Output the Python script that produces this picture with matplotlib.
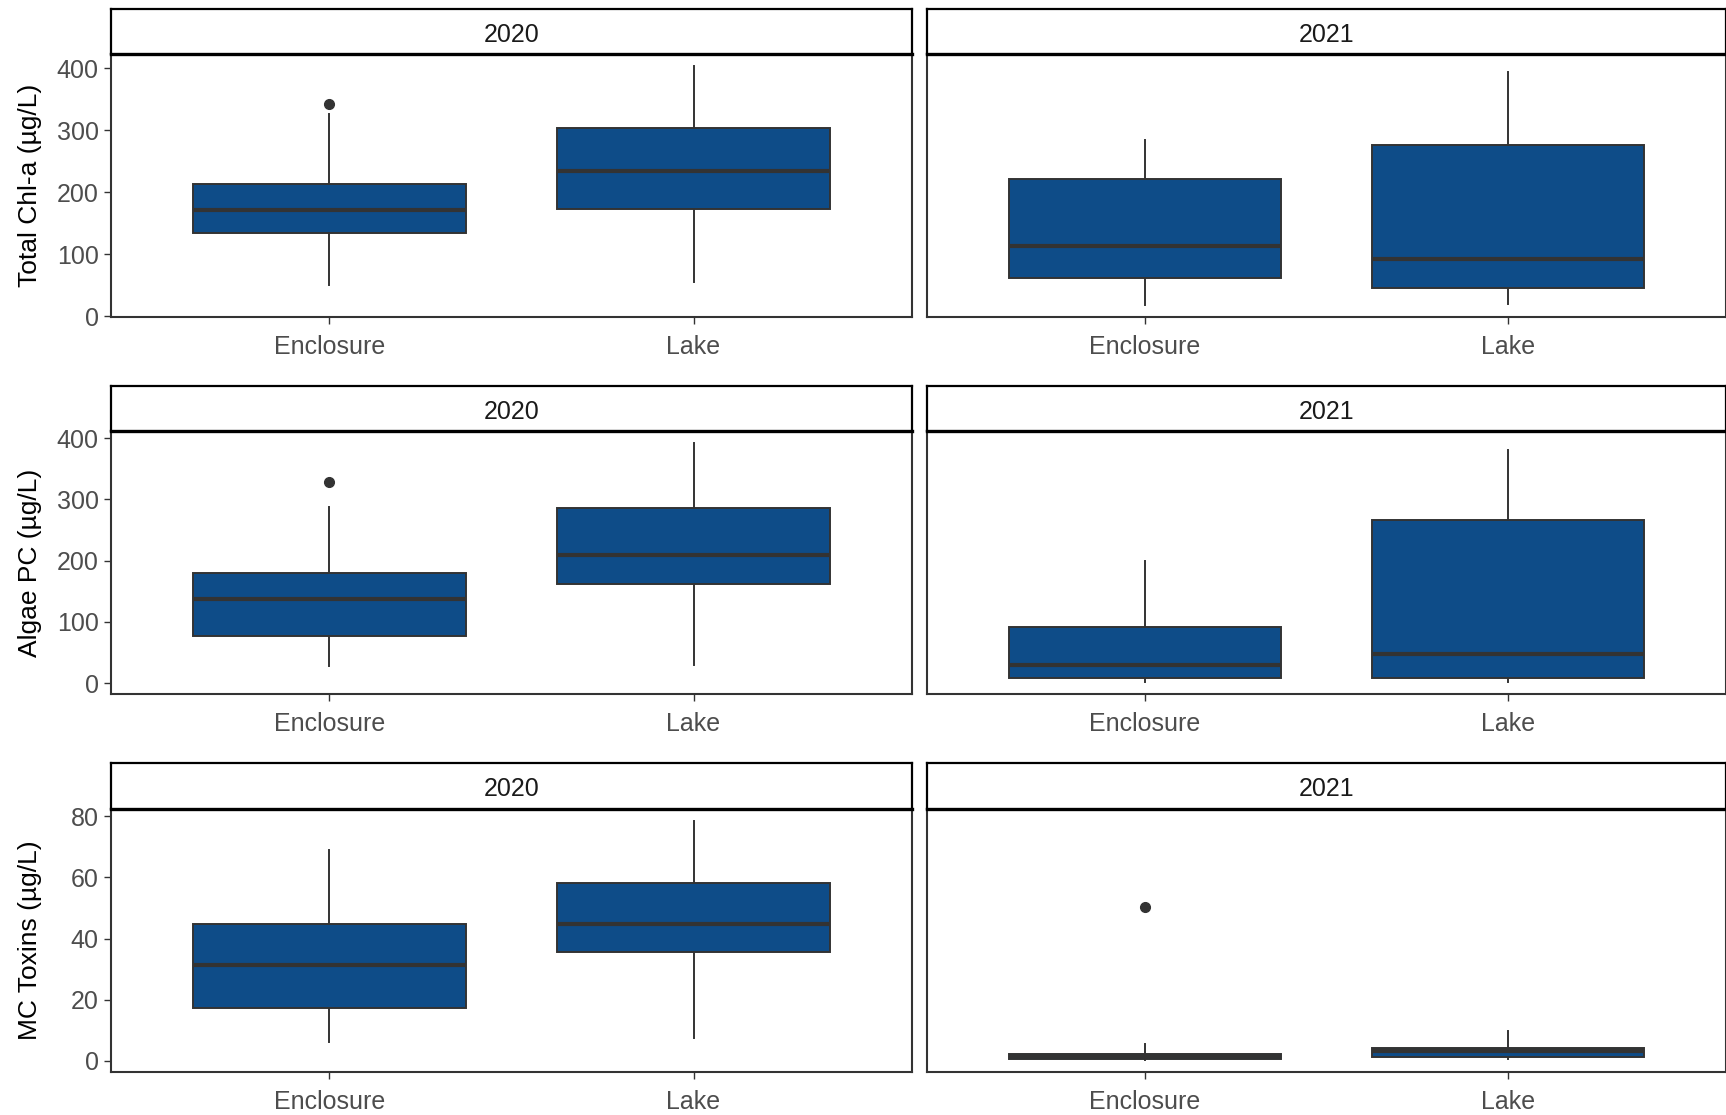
import matplotlib
matplotlib.use('Agg')
import matplotlib.pyplot as plt

# data: [whislo, q1, median, q3, whishi] per site
sites = ["Enclosure", "Lake"]
years = ["2020", "2021"]
ylabels = ["Total Chl-a (µg/L)", "Algae PC (µg/L)", "MC Toxins (µg/L)"]

chla_2020 = [[50, 135, 172, 213, 327], [56, 173, 234, 304, 404]]
chla_2021 = [[18, 61, 114, 222, 284], [20, 45, 92, 277, 395]]
pc_2020 = [[28, 77, 138, 180, 287], [30, 162, 210, 286, 392]]
pc_2021 = [[2, 9, 30, 91, 199], [2, 9, 47, 267, 381]]
mc_2020 = [[6.2, 17.3, 31.4, 44.7, 68.9], [7.5, 35.5, 44.9, 58.2, 78.4]]
mc_2021 = [[0.3, 0.6, 1.5, 2.4, 5.4], [0.8, 1.3, 3.4, 4.2, 9.7]]

chla_2020_out = [[342], []]
chla_2021_out = [[], []]
pc_2020_out = [[329], []]
pc_2021_out = [[], []]
mc_2020_out = [[], []]
mc_2021_out = [[50.3], []]

yticks_conc = [0, 100, 200, 300, 400]
yticks_mc = [0, 20, 40, 60, 80]

rows = [
    (ylabels[0], [chla_2020, chla_2021], [chla_2020_out, chla_2021_out], yticks_conc),
    (ylabels[1], [pc_2020, pc_2021], [pc_2020_out, pc_2021_out], yticks_conc),
    (ylabels[2], [mc_2020, mc_2021], [mc_2020_out, mc_2021_out], yticks_mc),
]

plt.rcParams['font.family'] = ['Liberation Sans', 'DejaVu Sans']

W, H = 1726, 1115
fill = '#0E4C88'
dark = '#333333'

fig = plt.figure(figsize=(W / 100, H / 100), dpi=100)


def px_rect(l, t, r, b):
    return [l / W, 1 - b / H, (r - l) / W, (b - t) / H]


col_x = [(111, 912), (927, 1726)]
row_y = [((9, 54), (54, 317)), ((386, 431), (431, 694)), ((763, 809), (809, 1072))]

for r, (ylab, stats_by_year, outs_by_year, yticks) in enumerate(rows):
    allvals = []
    for st, out in zip(stats_by_year, outs_by_year):
        for s, o in zip(st, out):
            allvals += list(s) + list(o)
    lo, hi = min(allvals), max(allvals)
    span = hi - lo
    ylim = (lo - 0.05 * span, hi + 0.05 * span)

    (st_t, st_b), (p_t, p_b) = row_y[r]
    for c, year in enumerate(years):
        l, rr = col_x[c]
        ax = fig.add_axes(px_rect(l, p_t, rr, p_b))
        stats = []
        for i, site in enumerate(sites):
            s = stats_by_year[c][i]
            stats.append(dict(label=site, whislo=s[0], q1=s[1], med=s[2],
                              q3=s[3], whishi=s[4], fliers=outs_by_year[c][i]))
        ax.bxp(stats, positions=[1, 2], widths=0.75, patch_artist=True,
               showcaps=False,
               boxprops=dict(facecolor=fill, edgecolor=dark, linewidth=1.4),
               medianprops=dict(color=dark, linewidth=3),
               whiskerprops=dict(color=dark, linewidth=1.4),
               flierprops=dict(marker='o', markerfacecolor=dark,
                               markeredgecolor=dark, markersize=7))
        ax.set_xlim(0.4, 2.6)
        ax.set_ylim(*ylim)
        ax.set_xticks([1, 2])
        ax.set_xticklabels(sites)
        ax.set_yticks(yticks)
        ax.tick_params(direction='out', length=5, width=1, color=dark,
                       labelcolor='#4D4D4D', labelsize=18)
        ax.tick_params(axis='x', pad=8)
        ax.tick_params(axis='y', pad=4)
        for sp in ax.spines.values():
            sp.set_color(dark)
            sp.set_linewidth(1.5)
        if c == 0:
            ax.set_ylabel(ylab, fontsize=19, color='black')
            ax.yaxis.set_label_coords(-0.086, 0.5)
        else:
            ax.tick_params(axis='y', left=False, labelleft=False)

        sax = fig.add_axes(px_rect(l, st_t, rr, st_b))
        sax.set_xticks([])
        sax.set_yticks([])
        for sp in sax.spines.values():
            sp.set_color('black')
            sp.set_linewidth(1.6)
        sax.spines['bottom'].set_linewidth(2.4)
        sax.text(0.5, 0.43, year, ha='center', va='center', fontsize=18,
                 color='#1A1A1A', transform=sax.transAxes)

fig.savefig('out.png', dpi=100)
plt.close(fig)
